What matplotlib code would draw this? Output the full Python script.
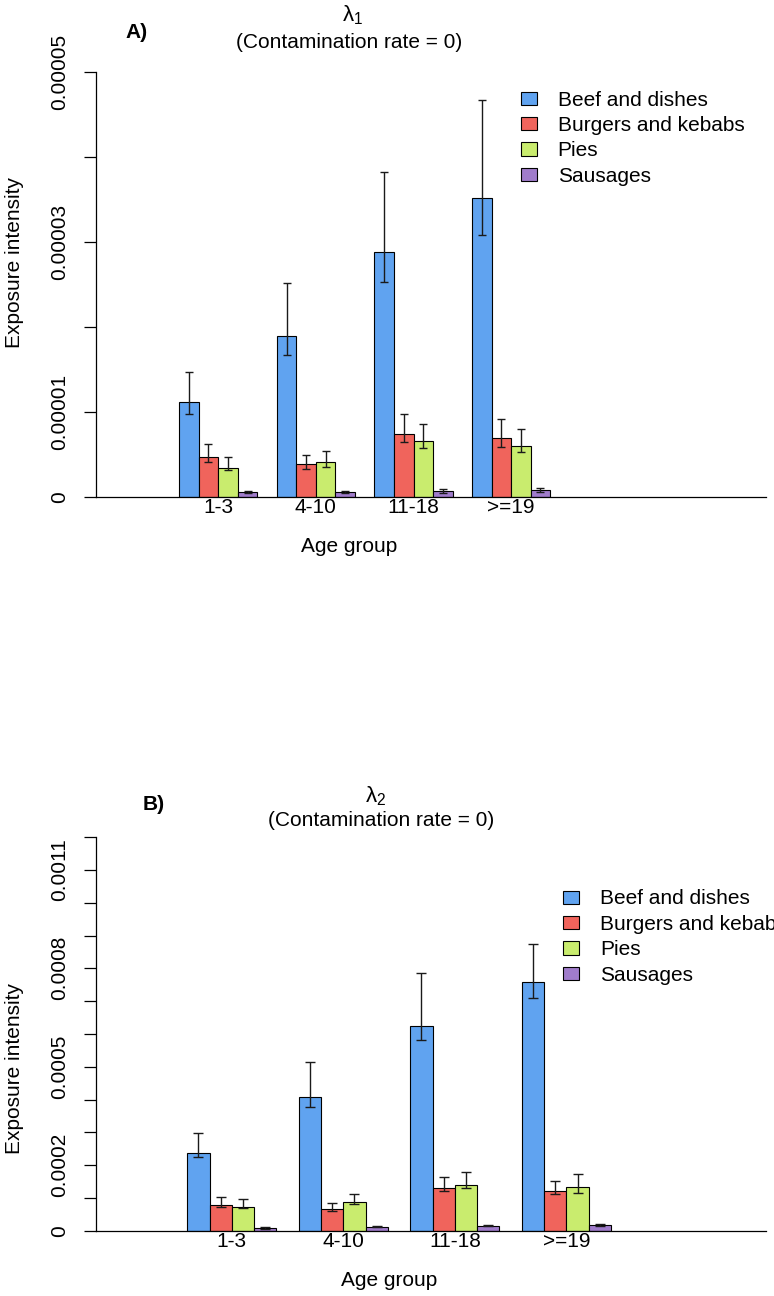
import numpy as np
import matplotlib
matplotlib.use("Agg")
import matplotlib.pyplot as plt

plt.rcParams['font.family'] = ['Liberation Sans', 'DejaVu Sans']
plt.rcParams['mathtext.fontset'] = 'custom'
plt.rcParams['mathtext.rm'] = 'Liberation Sans'
plt.rcParams['mathtext.it'] = 'Liberation Sans:italic'

# ---------------- data ----------------
age_groups = ["1-3", "4-10", "11-18", ">=19"]
foods = ["Beef and dishes", "Burgers and kebabs", "Pies", "Sausages"]
colors = ["#60A3F0", "#F0645C", "#C9EC6E", "#A07CCB"]

# Panel A (lambda 1)
a_mean = {
    "Beef and dishes":    [1.120e-5, 1.893e-5, 2.884e-5, 3.515e-5],
    "Burgers and kebabs": [0.474e-5, 0.388e-5, 0.741e-5, 0.690e-5],
    "Pies":               [0.345e-5, 0.411e-5, 0.655e-5, 0.603e-5],
    "Sausages":           [0.055e-5, 0.063e-5, 0.067e-5, 0.079e-5],
}
a_low = {
    "Beef and dishes":    [0.976e-5, 1.673e-5, 2.528e-5, 3.080e-5],
    "Burgers and kebabs": [0.408e-5, 0.325e-5, 0.643e-5, 0.591e-5],
    "Pies":               [0.317e-5, 0.357e-5, 0.580e-5, 0.533e-5],
    "Sausages":           [0.043e-5, 0.050e-5, 0.052e-5, 0.060e-5],
}
a_up = {
    "Beef and dishes":    [1.473e-5, 2.520e-5, 3.820e-5, 4.667e-5],
    "Burgers and kebabs": [0.620e-5, 0.494e-5, 0.976e-5, 0.913e-5],
    "Pies":               [0.474e-5, 0.545e-5, 0.862e-5, 0.800e-5],
    "Sausages":           [0.070e-5, 0.075e-5, 0.094e-5, 0.106e-5],
}

# Panel B (lambda 2)
b_mean = {
    "Beef and dishes":    [2.36e-4, 4.076e-4, 6.23e-4, 7.59e-4],
    "Burgers and kebabs": [0.793e-4, 0.65e-4, 1.30e-4, 1.21e-4],
    "Pies":               [0.73e-4, 0.866e-4, 1.40e-4, 1.33e-4],
    "Sausages":           [0.073e-4, 0.113e-4, 0.143e-4, 0.17e-4],
}
b_low = {
    "Beef and dishes":    [2.24e-4, 3.78e-4, 5.81e-4, 7.08e-4],
    "Burgers and kebabs": [0.73e-4, 0.61e-4, 1.21e-4, 1.12e-4],
    "Pies":               [0.70e-4, 0.805e-4, 1.29e-4, 1.15e-4],
    "Sausages":           [0.06e-4, 0.10e-4, 0.13e-4, 0.15e-4],
}
b_up = {
    "Beef and dishes":    [2.99e-4, 5.15e-4, 7.85e-4, 8.74e-4],
    "Burgers and kebabs": [1.02e-4, 0.835e-4, 1.646e-4, 1.52e-4],
    "Pies":               [0.957e-4, 1.12e-4, 1.79e-4, 1.72e-4],
    "Sausages":           [0.11e-4, 0.14e-4, 0.17e-4, 0.20e-4],
}

a_ticks = [0, 1e-5, 2e-5, 3e-5, 4e-5, 5e-5]
a_ticklabels = ["0", "0.00001", "", "0.00003", "", "0.00005"]
b_ticks = [i * 1e-4 for i in range(13)]
b_ticklabels = ["0", "", "0.0002", "", "", "0.0005", "", "", "0.0008", "", "", "0.0011", ""]

# ---------------- layout ----------------
W, H = 774, 1296
DPI = 100
FS = 15
fig = plt.figure(figsize=(W / DPI, H / DPI), dpi=DPI)


def px_rect(left, right, top, bottom):
    return [left / W, 1 - bottom / H, (right - left) / W, (bottom - top) / H]


def draw_panel(ax, mean, low, up, ticks, ticklabels, ylim, xlim, capsize,
               legend_anchor):
    n = len(foods)
    for k, food in enumerate(foods):
        x = np.array([1 + (n + 1) * g + k + 0.5 for g in range(len(age_groups))])
        m = np.array(mean[food])
        lo = m - np.array(low[food])
        hi = np.array(up[food]) - m
        ax.bar(x, m, width=1.0, color=colors[k], edgecolor="black",
               linewidth=0.8, label=food, zorder=2)
        ax.errorbar(x, m, yerr=[lo, hi], fmt="none", ecolor="#1a1a1a",
                    elinewidth=1.0, capsize=capsize, capthick=1.0, zorder=3)
    centers = [1 + (n + 1) * g + n / 2 for g in range(len(age_groups))]
    ax.set_xticks(centers)
    ax.set_xticklabels(age_groups, fontsize=FS)
    ax.tick_params(axis="x", length=0, pad=1)
    ax.set_yticks(ticks)
    ax.set_yticklabels(ticklabels, fontsize=FS, rotation=90, va="center")
    ax.tick_params(axis="y", length=9, width=0.9, pad=10)
    ax.set_xlim(*xlim)
    ax.set_ylim(*ylim)
    for s in ("top", "right"):
        ax.spines[s].set_visible(False)
    ax.spines["left"].set_bounds(ticks[0], ticks[-1])
    ax.spines["left"].set_linewidth(0.9)
    ax.spines["bottom"].set_linewidth(0.9)
    leg = ax.legend(loc="upper left", bbox_to_anchor=legend_anchor,
                    bbox_transform=fig.transFigure, frameon=False,
                    fontsize=FS, handlelength=0.78, handleheight=0.6,
                    handletextpad=1.0, labelspacing=0.31, borderpad=0,
                    borderaxespad=0)
    for p in leg.get_patches():
        p.set_linewidth(0.8)
        p.set_edgecolor("black")


# Panel A
axA = fig.add_axes(px_rect(96, 766, 54.7, 497))
draw_panel(axA, a_mean, a_low, a_up, a_ticks, a_ticklabels,
           (0, 5.2e-5), (-3.26, 31.05), 2.7, (520.5 / W, 1 - 90.5 / H))
# Panel B
axB = fig.add_axes(px_rect(96, 766, 820.7, 1230.7))
draw_panel(axB, b_mean, b_low, b_up, b_ticks, b_ticklabels,
           (0, 1.25e-3), (-3.09, 26.95), 3.3, (563 / W, 1 - 889.5 / H))

# Titles / labels (figure pixel positions)
def ftext(x, y, s, fs=FS, **kw):
    fig.text(x / W, 1 - y / H, s, ha="center", va="center", fontsize=fs, **kw)

ftext(353, 15, r"$\mathrm{\lambda}_{\mathrm{1}}$", fs=16)
ftext(349, 42, "(Contamination rate = 0)")
ftext(137, 32, "A)", fontweight="bold")
ftext(349, 546, "Age group")
ftext(15, 262, "Exposure intensity", rotation=90)

ftext(376, 796, r"$\mathrm{\lambda}_{\mathrm{2}}$", fs=16)
ftext(381, 821, "(Contamination rate = 0)")
ftext(154, 805, "B)", fontweight="bold")
ftext(389, 1280, "Age group")
ftext(15, 1068, "Exposure intensity", rotation=90)

fig.savefig("out.png", dpi=DPI)
